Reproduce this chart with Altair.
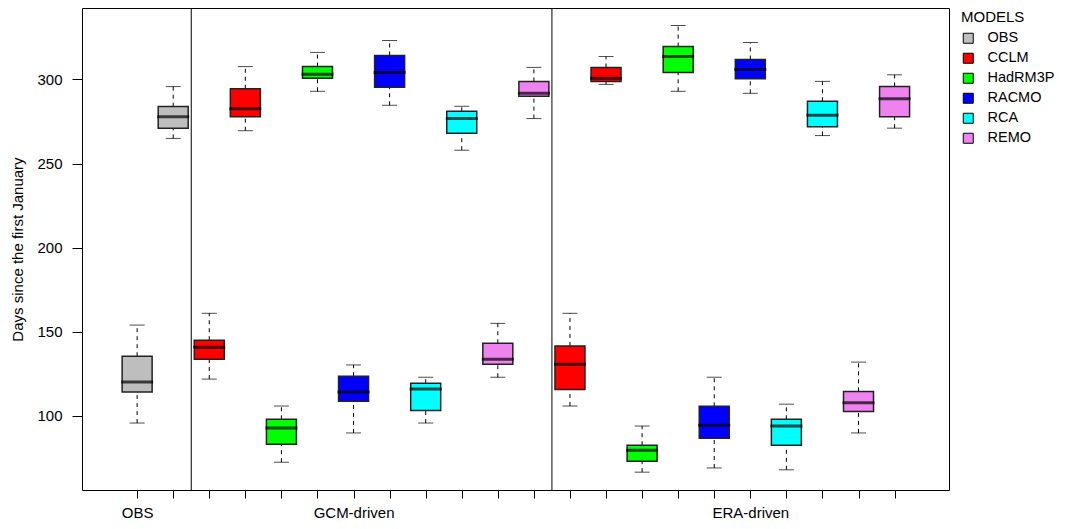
import altair as alt
import pandas as pd

# ---- data ----
models = ["OBS", "CCLM", "HadRM3P", "RACMO", "RCA", "REMO"]
model_colors = ["#bebebe", "#ff0000", "#00ff00", "#0000ff", "#00ffff", "#ee82ee"]
rcm_models = ["CCLM", "HadRM3P", "RACMO", "RCA", "REMO"]

# five-number summaries (lower whisker, Q1, median, Q3, upper whisker)
obs_spring = [(95.8, 114.2, 120.1, 135.5, 154.0)]
obs_autumn = [(264.9, 271.0, 277.8, 283.8, 295.7)]

gcm_spring = [(121.9, 133.7, 140.8, 145.0, 161.0),
              (72.5, 83.2, 92.8, 98.0, 105.9),
              (89.9, 108.8, 114.2, 123.6, 130.3),
              (95.8, 103.3, 116.0, 119.5, 123.0),
              (123.0, 130.7, 133.7, 143.2, 155.0)]
gcm_autumn = [(269.5, 277.8, 282.6, 294.4, 307.6),
              (292.9, 300.6, 303.0, 307.6, 316.0),
              (284.6, 295.3, 304.1, 314.2, 323.1),
              (257.9, 268.0, 276.7, 281.0, 284.0),
              (276.7, 289.9, 291.7, 298.8, 307.1)]

era_spring = [(105.9, 115.7, 130.7, 141.6, 161.0),
              (66.6, 73.1, 79.6, 82.6, 94.0),
              (69.1, 86.7, 94.4, 105.7, 123.0),
              (68.0, 82.6, 94.0, 98.0, 107.0),
              (89.9, 102.7, 107.8, 114.6, 132.0)]
era_autumn = [(297.0, 298.8, 300.6, 307.1, 313.6),
              (292.9, 304.1, 313.6, 319.5, 332.0),
              (291.7, 300.4, 305.9, 311.8, 321.9),
              (266.6, 271.9, 278.7, 287.0, 298.8),
              (271.0, 277.8, 288.5, 295.8, 302.7)]

group_tick_labels = {1: "OBS", 7: "GCM-driven", 18: "ERA-driven"}
separators = [2.5, 12.5]
y_ticks = [100, 150, 200, 250, 300]

# ---- build table ----
rows = []
pos = 1
for names, spring, autumn in [(["OBS"], obs_spring, obs_autumn),
                              (rcm_models, gcm_spring, gcm_autumn),
                              (rcm_models, era_spring, era_autumn)]:
    for name, s, a in zip(names, spring, autumn):
        for stats in (s, a):
            rows.append(dict(model=name, pos=pos, lo=stats[0], q1=stats[1],
                             med=stats[2], q3=stats[3], hi=stats[4]))
            pos += 1
df = pd.DataFrame(rows)

FONT = "Liberation Sans"
label_expr = " : ".join(f"datum.value == {k} ? '{v}'" for k, v in group_tick_labels.items()) + " : ''"

x_scale = alt.Scale(domain=[-0.39, 23.37], nice=False, zero=False)
y_scale = alt.Scale(domain=[56, 342.4], nice=False, zero=False)

x_axis = alt.Axis(values=list(range(1, 23)), labelExpr=label_expr, title=None, grid=False,
                  domain=False, tickSize=8, tickColor="black", labelFontSize=15,
                  labelPadding=7, labelOverlap=False, labelFlush=False, labelBound=False,
                  labelColor="black")
y_axis = alt.Axis(values=y_ticks, title="Days since the first January", grid=False,
                  domain=False, tickSize=10, tickColor="black", labelFontSize=15,
                  labelPadding=10, titleFontSize=15, titleFontWeight="normal",
                  titlePadding=11, labelColor="black", titleColor="black")


def X():
    return alt.X("pos:Q", scale=x_scale, axis=x_axis)


def Y(field):
    return alt.Y(f"{field}:Q", scale=y_scale, axis=y_axis)


base = alt.Chart(df)

whisk_lo = base.mark_rule(color="black", strokeDash=[4, 4], strokeWidth=1).encode(
    x=X(), y=Y("lo"), y2="q1:Q")
whisk_hi = base.mark_rule(color="black", strokeDash=[4, 4], strokeWidth=1).encode(
    x=X(), y=Y("q3"), y2="hi:Q")
cap_lo = base.mark_tick(orient="horizontal", size=15, thickness=1, color="black").encode(
    x=X(), y=Y("lo"))
cap_hi = base.mark_tick(orient="horizontal", size=15, thickness=1, color="black").encode(
    x=X(), y=Y("hi"))
boxes = base.mark_bar(size=30, stroke="#222222", strokeWidth=1.5, opacity=1).encode(
    x=X(), y=Y("q1"), y2="q3:Q",
    color=alt.Color("model:N", scale=alt.Scale(domain=models, range=model_colors),
                    legend=alt.Legend(title="MODELS", orient="none", legendX=879, legendY=2,
                                      titleFontSize=15, titleFontWeight="normal",
                                      titleColor="black", labelColor="black",
                                      labelFontSize=14.5, symbolType="square",
                                      symbolSize=100, symbolStrokeColor="black",
                                      symbolStrokeWidth=1, labelOffset=12,
                                      rowPadding=4, titlePadding=6, padding=0)))
medians = base.mark_tick(orient="horizontal", size=32, thickness=3, color="black").encode(
    x=X(), y=Y("med"))
seps = alt.Chart(pd.DataFrame({"sep": separators})).mark_rule(color="black", strokeWidth=1).encode(
    x=alt.X("sep:Q", scale=x_scale, axis=x_axis))

chart = alt.layer(whisk_lo, whisk_hi, cap_lo, cap_hi, boxes, medians, seps).properties(
    width=867, height=482,
    autosize=alt.AutoSizeParams(type="none"),
    padding={"left": 74, "top": 0, "right": 108, "bottom": 35},
).configure(font=FONT).configure_view(stroke="black", strokeWidth=1)

chart.save("out.html", embed_options={"renderer": "svg", "actions": False})
